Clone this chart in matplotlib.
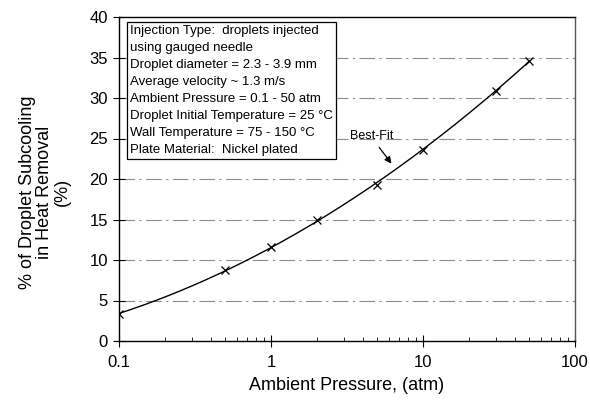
import matplotlib
matplotlib.use('Agg')
import matplotlib.pyplot as plt
import numpy as np

# Data
pressure = [0.1, 0.5, 1, 2, 5, 10, 30, 50]
subcooling = [3.3, 8.8, 11.6, 14.9, 19.3, 23.6, 30.9, 34.6]

x_ticks = [0.1, 1, 10, 100]
x_tick_labels = ['0.1', '1', '10', '100']
y_ticks = [0, 5, 10, 15, 20, 25, 30, 35, 40]

info_lines = [
    'Injection Type:  droplets injected',
    'using gauged needle',
    'Droplet diameter = 2.3 - 3.9 mm',
    'Average velocity ~ 1.3 m/s',
    'Ambient Pressure = 0.1 - 50 atm',
    'Droplet Initial Temperature = 25 \u00b0C',
    'Wall Temperature = 75 - 150 \u00b0C',
    'Plate Material:  Nickel plated',
]

plt.rcParams['font.family'] = ['Liberation Sans', 'DejaVu Sans']

fig = plt.figure(figsize=(5.9, 4.0), dpi=100)
ax = fig.add_axes([0.2017, 0.1475, 0.7729, 0.81])

# Best-fit curve: quadratic in log10(pressure)
coef = np.polyfit(np.log10(pressure), subcooling, 2)
xs = np.logspace(-1, np.log10(50), 200)
ax.plot(xs, np.polyval(coef, np.log10(xs)), color='black', lw=1.0)
ax.plot(pressure, subcooling, 'x', color='black', ms=6, mew=0.9)

# Faint dash-dot gridlines
for y in y_ticks[1:-1]:
    ax.axhline(y, color='#8a8a8a', lw=0.8, ls=(0, (14, 4, 2, 4)), zorder=0)

ax.set_xscale('log')
ax.set_xlim(0.1, 100)
ax.set_ylim(0, 40)
ax.set_xticks(x_ticks)
ax.set_xticklabels(x_tick_labels)
ax.set_yticks(y_ticks)
ax.tick_params(axis='x', which='major', direction='inout', length=8, labelsize=12, pad=6)
ax.tick_params(axis='x', which='minor', direction='in', length=3)
ax.tick_params(axis='y', direction='inout', length=8, labelsize=12, pad=4)
for s in ax.spines.values():
    s.set_linewidth(1.0)
ax.spines['right'].set_color('#555555')

ax.set_xlabel('Ambient Pressure, (atm)', fontsize=13, labelpad=5)
ax.set_ylabel('% of Droplet Subcooling\nin Heat Removal\n(%)', fontsize=13,
              linespacing=1.05)
ax.yaxis.set_label_coords(-0.105, 0.46)

ax.text(0.024, 0.975, '\n'.join(info_lines), transform=ax.transAxes,
        fontsize=9.5, va='top', ha='left', linespacing=1.55,
        bbox=dict(boxstyle='square,pad=0.25', fc='white', ec='black', lw=0.9))

ax.text(4.6, 25.3, 'Best-Fit', fontsize=9, ha='center', va='center')
ax.annotate('', xy=(6.2, 21.9), xytext=(5.15, 23.9),
            arrowprops=dict(arrowstyle='-|>', color='black', lw=0.9,
                            shrinkA=0, shrinkB=0, mutation_scale=10))

fig.savefig('out.png', dpi=100)
